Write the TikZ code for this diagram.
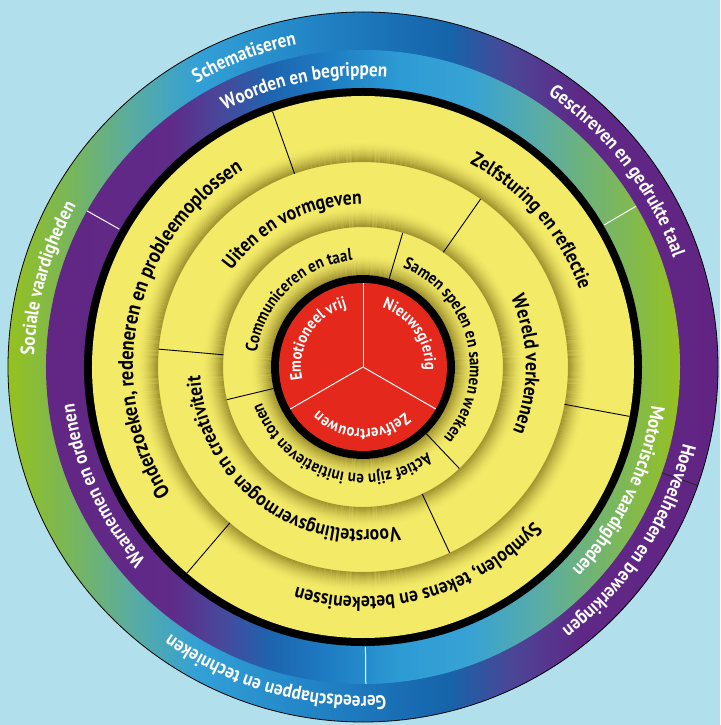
\documentclass[tikz,border=0pt]{standalone}
\usepackage{fontspec}
\setmainfont{PT Sans}
\newfontfamily\ptnarrow[FakeStretch=0.88]{PT Sans}
\usetikzlibrary{decorations.text}
\definecolor{bgc}{RGB}{177,223,235}
\definecolor{yel}{RGB}{243,234,104}
\definecolor{shadowc}{RGB}{120,105,20}
\definecolor{redc}{RGB}{228,40,28}
% outer band stops
\definecolor{oa}{RGB}{150,193,31}
\definecolor{ob}{RGB}{120,182,90}
\definecolor{oc}{RGB}{90,172,160}
\definecolor{od}{RGB}{50,160,214}
\definecolor{oe}{RGB}{35,135,200}
\definecolor{of}{RGB}{25,110,180}
\definecolor{og}{RGB}{22,100,170}
\definecolor{oh}{RGB}{75,70,150}
\definecolor{oi}{RGB}{95,40,135}
\definecolor{oj}{RGB}{98,36,130}
% inner band stops
\definecolor{ia}{RGB}{98,38,132}
\definecolor{ib}{RGB}{96,42,136}
\definecolor{ic}{RGB}{72,72,155}
\definecolor{id}{RGB}{30,100,175}
\definecolor{ie}{RGB}{30,125,195}
\definecolor{if}{RGB}{45,155,212}
\definecolor{ig}{RGB}{55,162,212}
\definecolor{ih}{RGB}{90,172,165}
\definecolor{ii}{RGB}{120,182,100}
\definecolor{ij}{RGB}{150,193,31}
\pgfdeclarehorizontalshading{outerband}{100bp}{color(0bp)=(oa); color(25bp)=(oa); color(29.4bp)=(ob); color(33.6bp)=(oc); color(38.5bp)=(od); color(45.6bp)=(oe); color(52.6bp)=(of); color(56.1bp)=(og); color(60.4bp)=(oh); color(65.3bp)=(oi); color(75bp)=(oj); color(100bp)=(oj)}
\pgfdeclarehorizontalshading{innerband}{100bp}{color(0bp)=(ia); color(25bp)=(ia); color(34.8bp)=(ib); color(38.8bp)=(ic); color(42.7bp)=(id); color(47.4bp)=(ie); color(52.9bp)=(if); color(58.4bp)=(ig); color(63.9bp)=(ih); color(69.4bp)=(ii); color(75bp)=(ij); color(100bp)=(ij)}
\newcommand\outfont{\ptnarrow\fontsize{19.5}{21}\selectfont\bfseries\color{white}}
\newcommand\yfont{\ptnarrow\fontsize{20}{22}\selectfont\bfseries\color{black}}
\newcommand\ybigfont{\ptnarrow\fontsize{21}{23}\selectfont\bfseries\color{black}}
\newcommand\smfont{\ptnarrow\fontsize{17}{19}\selectfont\bfseries\color{black}}
\newcommand\redfont{\ptnarrow\fontsize{16.5}{18}\selectfont\bfseries\color{white}}
\newcommand\arclabel[4]{%
  \path[decorate,decoration={text along path,text align=center,text={|#3|#4}}]
    ({#2+100}:#1pt) arc[start angle={#2+100},end angle={#2-100},radius=#1pt];}
\newcommand\ringshadow[1]{%
  \foreach \i in {0,...,19}{%
    \pgfmathsetmacro\op{0.62*(1-\i/20)^1.8}%
    \pgfmathsetmacro\rr{#1+\i+0.5}%
    \draw[shadowc,draw opacity=\op,line width=1.1pt] (0,0) circle (\rr pt);}}
\tikzset{
  divline/.style={black,line width=0.9pt},
  whiteline/.style={white,line width=1pt},
}
\begin{document}
\begin{tikzpicture}
\useasboundingbox (-363pt,-358pt) rectangle (357pt,367pt);
\fill[bgc] (-363pt,-358pt) rectangle (357pt,367pt);
% bands
\shade[shading=outerband] (0,0) circle (355pt);
\shade[shading=innerband] (0,0) circle (317pt);
\fill[black] (0,0) circle (279pt);
\fill[yel] (0,0) circle (271pt);
\ringshadow{205}
\ringshadow{140}
\ringshadow{92}
\fill[black] (0,0) circle (92pt);
\fill[redc] (0,0) circle (84pt);
% dividers
\foreach \a in {109.5,229.5,349.5} \draw[divline] (\a:205pt) -- (\a:271pt);
\foreach \a in {55,175,295} \draw[divline] (\a:140pt) -- (\a:205pt);
\foreach \a in {73.5,193.5,313.5} \draw[divline] (\a:92pt) -- (\a:140pt);
\foreach \a in {90,210,330} \draw[whiteline] (0,0) -- (\a:84pt);
\foreach \a in {30.5,150.5,270.5} \draw[whiteline] (\a:280pt) -- (\a:317pt);
\draw[black!85,line width=0.8pt] (-19.5:317pt) -- (-19.5:355pt);
\draw[black,line width=0.8pt] (0,0) circle (355pt);
% outer band labels
\arclabel{329}{111}{\outfont}{Schematiseren}
\arclabel{329}{37.6}{\outfont}{Geschreven en gedrukte taal}
\arclabel{329}{-33.1}{\outfont}{Hoeveelheden en bewerkingen}
\arclabel{329}{254.1}{\outfont}{Gereedschappen en technieken}
\arclabel{329}{164.3}{\outfont}{Sociale vaardigheden}
% inner band labels
\arclabel{291}{101.8}{\outfont}{Woorden en begrippen}
\arclabel{291}{-25.8}{\outfont}{Motorische vaardigheden}
\arclabel{291}{204.5}{\outfont}{Waarnemen en ordenen}
% ring 1
\arclabel{230}{167.3}{\ybigfont}{Onderzoeken, redeneren en probleemoplossen}
\arclabel{230}{41}{\yfont}{Zelfsturing en reflectie}
\arclabel{230}{-74.5}{\yfont}{Symbolen, tekens en betekenissen}
% ring 2
\arclabel{163}{117}{\yfont}{Uiten en vormgeven}
\arclabel{163}{1}{\yfont}{Wereld verkennen}
\arclabel{163}{232.8}{\yfont}{Voorstellingsvermogen en creativiteit}
% ring 3
\arclabel{107}{134}{\smfont}{Communiceren en taal}
\arclabel{107}{13.5}{\smfont}{Samen spelen en samen werken}
\arclabel{107}{253.1}{\smfont}{Actief zijn en initiatieven tonen}
% red
\arclabel{62}{148.5}{\redfont}{Emotioneel vrij}
\arclabel{62}{34.7}{\redfont}{Nieuwsgierig}
\arclabel{62}{268.4}{\redfont}{Zelfvertrouwen}
\end{tikzpicture}
\end{document}
